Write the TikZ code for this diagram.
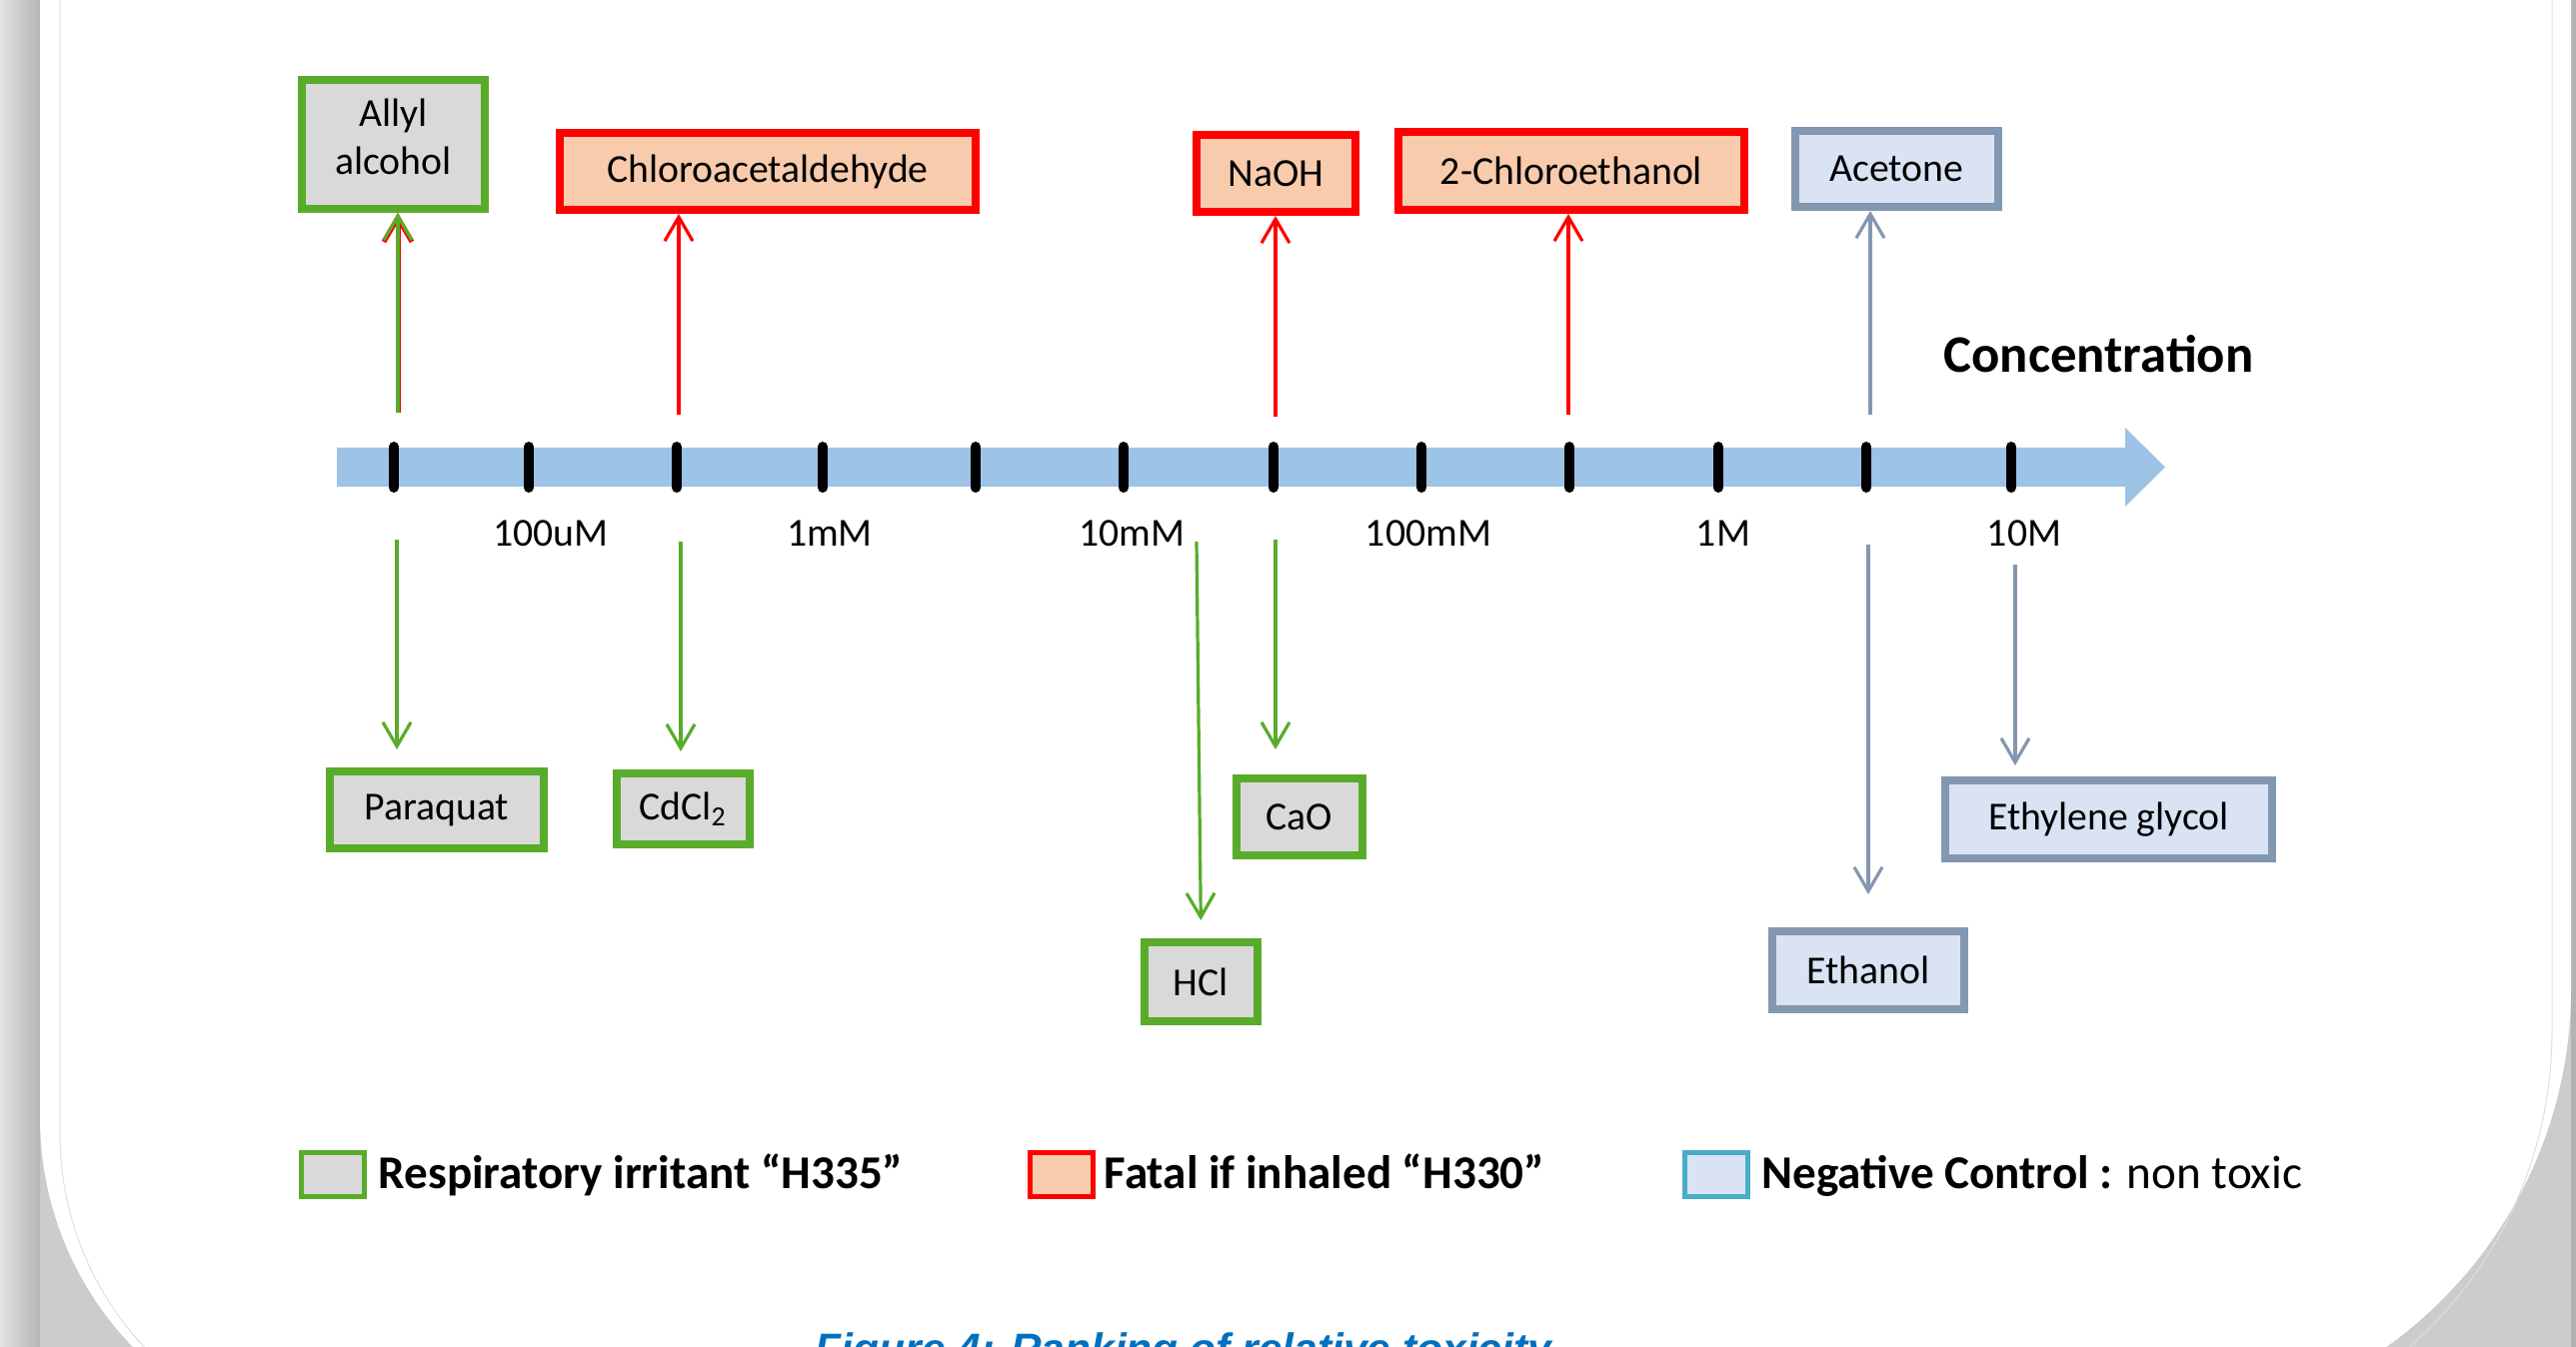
\documentclass[tikz,border=0pt]{standalone}
\usepackage{fontspec}
\setmainfont{Carlito}
\newfontfamily\capfont{Liberation Sans}
\usepackage{tikz}
\usetikzlibrary{arrows.meta}
\definecolor{irrgreen}{RGB}{88,172,42}
\definecolor{boxgray}{RGB}{217,217,217}
\definecolor{fatalred}{RGB}{255,0,0}
\definecolor{fatalfill}{RGB}{248,203,173}
\definecolor{negborder}{RGB}{132,151,176}
\definecolor{negfill}{RGB}{218,227,243}
\definecolor{legblue}{RGB}{75,172,198}
\definecolor{axisblue}{RGB}{157,195,230}
\definecolor{capblue}{RGB}{0,112,192}
\tikzset{
  cbox/.style={rectangle,inner sep=0pt,line width=0.8mm,align=center,font=\fontsize{11.3}{13.6}\selectfont},
  irrbox/.style={cbox,draw=irrgreen,fill=boxgray},
  fatbox/.style={cbox,draw=fatalred,fill=fatalfill},
  negbox/.style={cbox,draw=negborder,fill=negfill},
  arr/.style={-{Straight Barb[length=2.4mm,width=2.8mm]},line width=0.32mm},
  greenarr/.style={arr,irrgreen},
  redarr/.style={arr,fatalred},
  negarr/.style={arr,negborder},
  ticklab/.style={font=\fontsize{11.3}{13.6}\selectfont,anchor=base},
  legbox/.style={rectangle,inner sep=0pt,line width=0.5mm,minimum width=6.3mm,minimum height=4.4mm},
  legtxt/.style={font=\fontsize{13.4}{15}\selectfont\bfseries,anchor=base west,inner sep=0pt},
}
\begin{document}
\begin{tikzpicture}[x=0.1mm,y=-0.1mm]
  \useasboundingbox (0,0) rectangle (2577,1348);
  \clip (0,0) rectangle (2577,1348);
  % slide background
  \fill[gray!40] (0,0) rectangle (2577,1348);
  \shade[left color=gray!22,right color=gray!58] (0,0) rectangle (40,1348);
  \fill[gray!60] (2572,0) rectangle (2577,1348);
  \fill[white] (40,-10) -- (40,1118) arc[start angle=180,end angle=90,radius=331]
    -- (2131,1430) arc[start angle=90,end angle=0,radius=441] -- (2572,-10) -- cycle;
  \draw[gray!25,line width=0.1mm] (60,-10) -- (60,1135) arc[start angle=180,end angle=90,radius=311];
  \draw[gray!25,line width=0.1mm] (2553,-10) -- (2553,1032) arc[start angle=0,end angle=90,radius=422];

  % concentration axis
  \fill[axisblue] (337,448) -- (2126,448) -- (2126,428) -- (2166,467.5)
    -- (2126,507) -- (2126,487) -- (337,487) -- cycle;
  \foreach \tx in {394,529,677,823,976,1124,1274,1422,1570,1719,1867,2012}
    \draw[line width=1mm,line cap=round] (\tx,447) -- (\tx,488);
  \node[font=\fontsize{15}{18}\selectfont\bfseries,anchor=base west,inner sep=0pt] (conc) at (1944,373) {Concentration};
  \node[ticklab] (l100u) at (551,547) {100uM};
  \node[ticklab] (l1m) at (830,547) {1mM};
  \node[ticklab] (l10m) at (1132,547) {10mM};
  \node[ticklab] (l100m) at (1429,547) {100mM};
  \node[ticklab] (l1) at (1724,547) {1M};
  \node[ticklab] (l10) at (2025,547) {10M};

  % upper boxes
  \node[irrbox,minimum width=18.3mm,minimum height=12.9mm] (allyl) at (393.5,144.5) {Allyl\\alcohol\rule[-0.4em]{0pt}{0pt}};
  \node[fatbox,minimum width=41.6mm,minimum height=7.7mm] (chlald) at (768,171.5) {Chloroacetaldehyde};
  \node[fatbox,minimum width=15.9mm,minimum height=7.7mm] (naoh) at (1276.5,173.5) {NaOH};
  \node[fatbox,minimum width=34.6mm,minimum height=7.8mm] (chleth) at (1572,171) {2-Chloroethanol};
  \node[negbox,minimum width=20.3mm,minimum height=7.6mm] (acetone) at (1897.5,169) {Acetone};

  % lower boxes
  \node[irrbox,minimum width=21.4mm,minimum height=7.7mm] (paraquat) at (437,810.5) {Paraquat};
  \node[irrbox,minimum width=13.3mm,minimum height=7.1mm] (cdcl) at (683.5,809.5) {CdCl\textsubscript{2}};
  \node[irrbox,minimum width=11.3mm,minimum height=7.9mm] (hcl) at (1201.5,982.5) {HCl};
  \node[irrbox,minimum width=12.6mm,minimum height=7.7mm] (cao) at (1300,817.5) {CaO};
  \node[negbox,minimum width=19.2mm,minimum height=7.8mm] (ethanol) at (1869,971) {Ethanol};
  \node[negbox,minimum width=32.7mm,minimum height=7.8mm] (eglycol) at (2109.5,820) {Ethylene glycol};

  % arrows up
  \coordinate (uAllyl) at (398,413);
  \coordinate (uChlald) at (679,415);
  \coordinate (uNaoh) at (1276,417);
  \coordinate (uChleth) at (1569,415);
  \coordinate (uAcetone) at (1871,415);
  \draw[redarr,line width=0.5mm] (uAllyl) -- (uAllyl |- allyl.south);
  \draw[greenarr] (uAllyl) -- (uAllyl |- allyl.south);
  \draw[redarr] (uChlald) -- (uChlald |- chlald.south);
  \draw[redarr] (uNaoh) -- (uNaoh |- naoh.south);
  \draw[redarr] (uChleth) -- (uChleth |- chleth.south);
  \draw[negarr] (uAcetone) -- (uAcetone |- acetone.south);

  % arrows down
  \coordinate (dParaquat) at (397,540);
  \coordinate (dCdcl) at (681,542);
  \coordinate (dHcl) at (1197,542);
  \coordinate (dCao) at (1276,540);
  \coordinate (dEthanol) at (1869,545);
  \coordinate (dEglycol) at (2016,565);
  \draw[greenarr,shorten >=1.8mm] (dParaquat) -- (dParaquat |- paraquat.north);
  \draw[greenarr,shorten >=1.8mm] (dCdcl) -- (dCdcl |- cdcl.north);
  \draw[greenarr,shorten >=1.8mm] (dHcl) -- (hcl.north);
  \draw[greenarr,shorten >=2.5mm] (dCao) -- (dCao |- cao.north);
  \draw[negarr,shorten >=3.3mm] (dEthanol) -- (dEthanol |- ethanol.north);
  \draw[negarr,shorten >=1.1mm] (dEglycol) -- (dEglycol |- eglycol.north);

  % legend
  \node[legbox,draw=irrgreen,fill=boxgray] (legirr) at (333,1175.5) {};
  \node[legtxt] (legirrtxt) at (378,1190) {Respiratory irritant “H335”};
  \node[legbox,draw=fatalred,fill=fatalfill] (legfat) at (1062,1175.5) {};
  \node[legtxt] (legfattxt) at (1104,1190) {Fatal if inhaled “H330”};
  \node[legbox,draw=legblue,fill=negfill] (legneg) at (1717,1175.5) {};
  \node[legtxt] (legnegtxt) at (1762,1190) {Negative Control : {\mdseries non toxic}};

  % caption, cut by the page edge
  \node[font=\fontsize{12.1}{14}\capfont\bfseries\itshape,text=capblue,anchor=base west,inner sep=0pt] (caption) at (815,1365)
    {Figure 4: Ranking of relative toxicity};
\end{tikzpicture}
\end{document}
